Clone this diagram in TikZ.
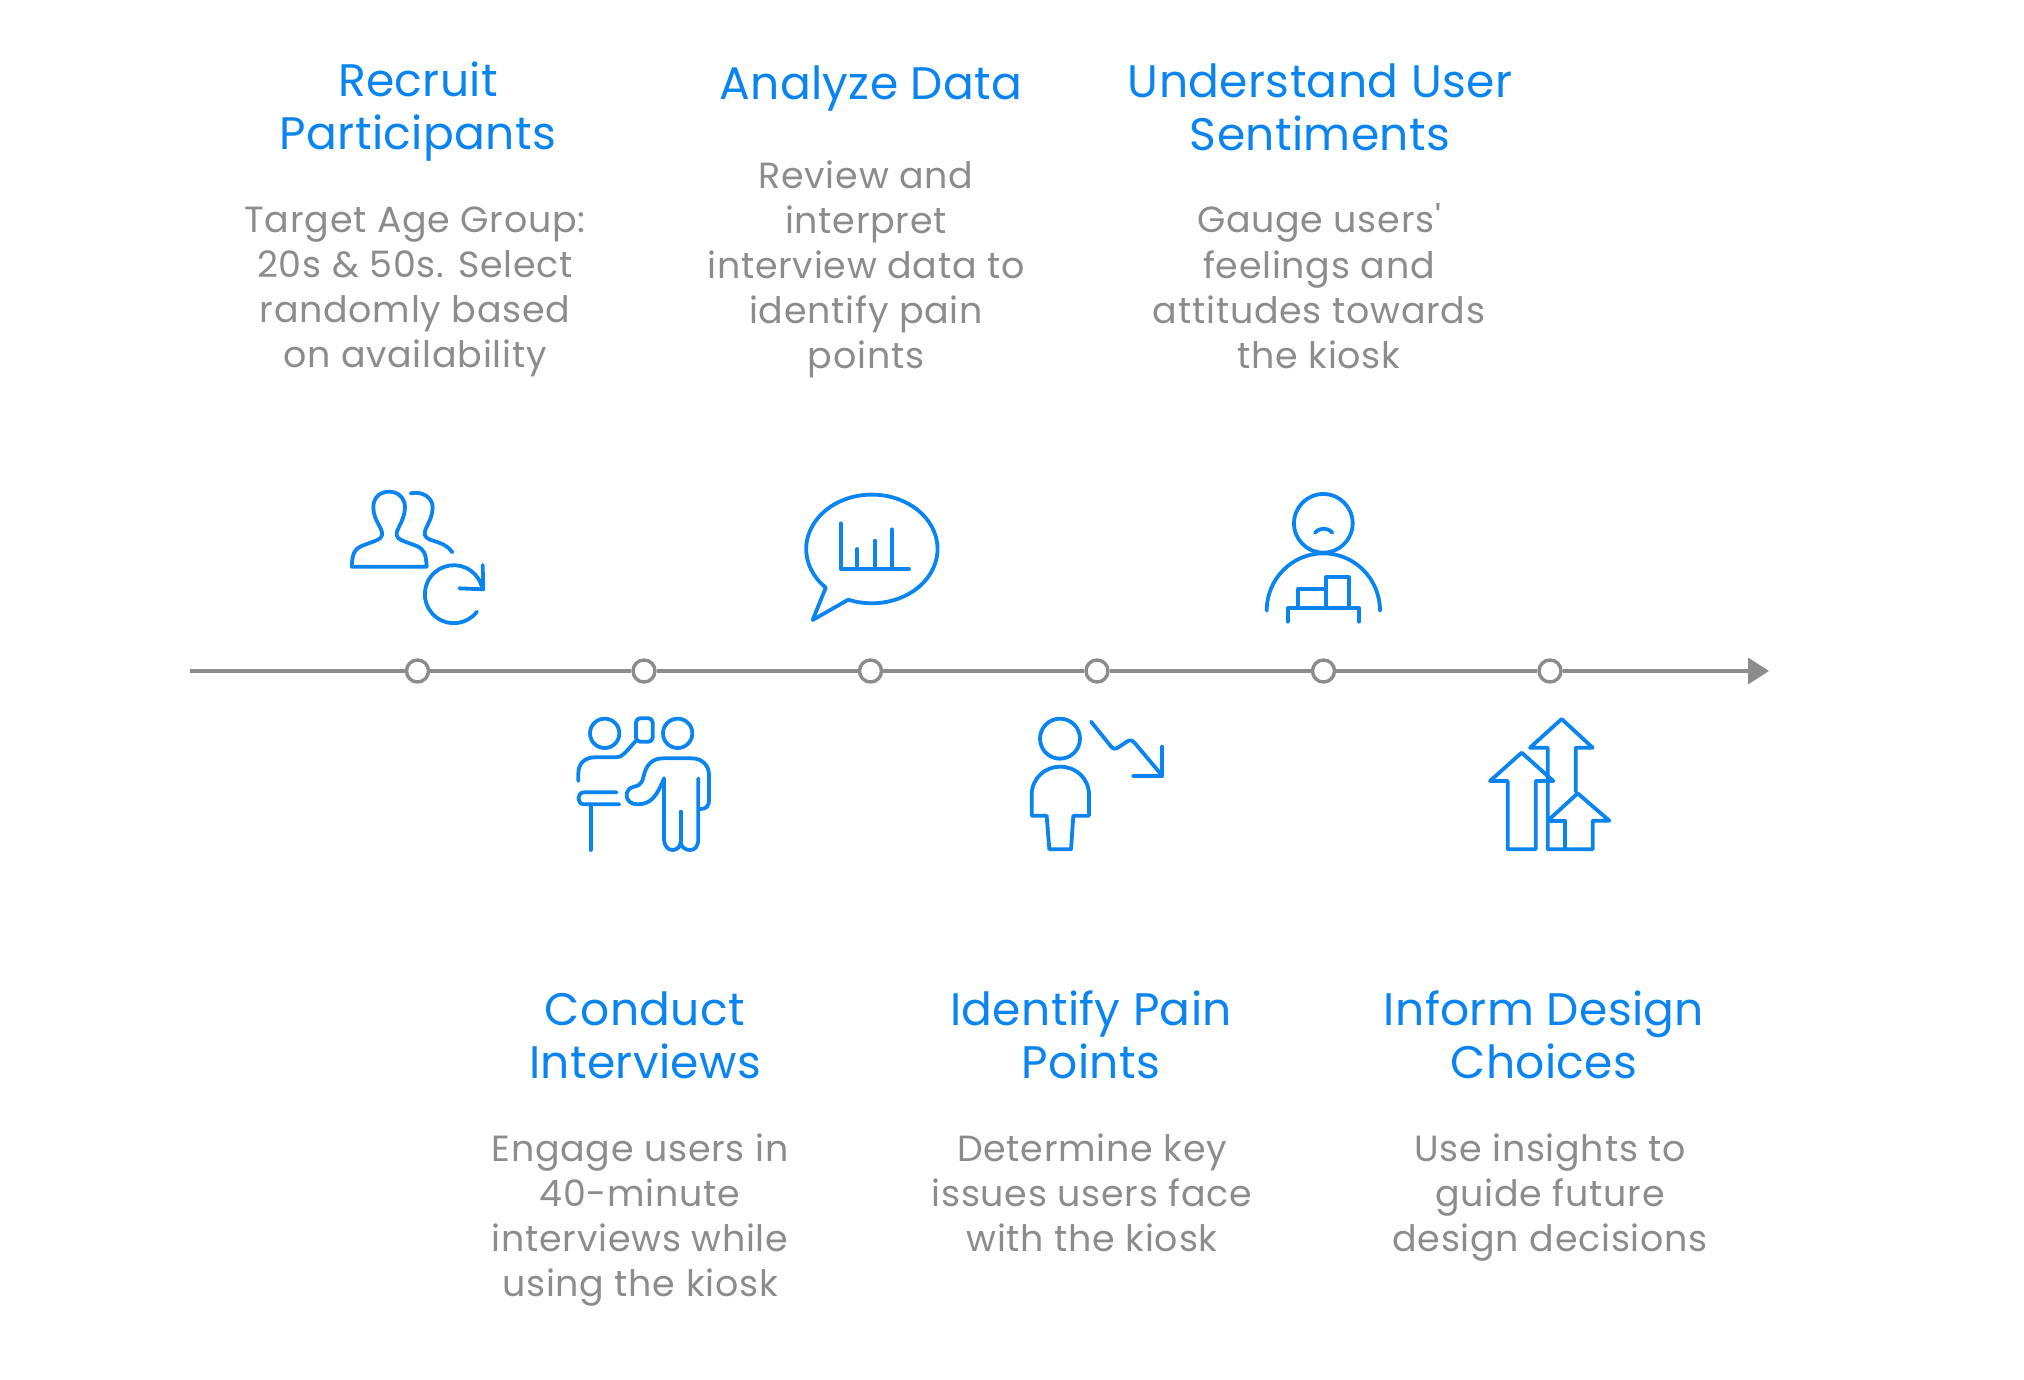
\documentclass[tikz,border=0pt]{standalone}
\usepackage{fontspec}
\setmainfont{Poppins}[Ligatures = TeXOff]
\usetikzlibrary{arrows.meta}
\definecolor{stepblue}{HTML}{0A84F0}
\definecolor{stepgray}{HTML}{8C8C8C}
\begin{document}
\begin{tikzpicture}
    [
        x = 0.5pt, y = -0.5pt,
        title/.style = {text = stepblue, align = center, inner sep = 0pt, font = \fontsize{22.8}{26.5}\selectfont\addfontfeature{LetterSpace = 0.8}},
        body/.style = {text = stepgray, align = center, inner sep = 0pt, anchor = north, font = \fontsize{18.2}{22.6}\selectfont\addfontfeature{LetterSpace = 2.1}},
        dot/.style = {draw = stepgray, fill = white, circle, line width = 1.7pt, inner sep = 0pt, minimum size = 11pt},
        axis/.style = {draw = stepgray, line width = 1.7pt, -{Triangle[length = 10.5pt, width = 13pt]}},
        icon/.style = {draw = stepblue, line width = 1.9pt, line join = round, line cap = round},
        iconat/.style = {shift = {(#1)}, scale = 1/3}
    ]
        \useasboundingbox (0, 0) rectangle (2024, 1380);

        % timeline
        \coordinate (axisstart) at (190, 671);
        \coordinate (axistip) at (1769, 671);
        \node[dot] (dot1) at (417.5, 671) {};
        \node[dot] (dot2) at (644, 671) {};
        \node[dot] (dot3) at (870.5, 671) {};
        \node[dot] (dot4) at (1097, 671) {};
        \node[dot] (dot5) at (1323.5, 671) {};
        \node[dot] (dot6) at (1550, 671) {};
        \draw[axis] (axisstart) -- (dot1) -- (dot2) -- (dot3) -- (dot4) -- (dot5) -- (dot6) -- (axistip);

        % upper texts
        \node[title] (recruit) at (418, 112) {Recruit\\Participants};
        \node[body] (recruittext) at (415, 206) {Target Age Group:\\20s \& 50s. Select\\randomly based\\on availability};
        \node[title] (analyze) at (871, 89) {Analyze Data};
        \node[body] (analyzetext) at (866, 160) {Review and\\interpret\\interview data to\\identify pain\\points};
        \node[title] (sentiments) at (1320, 107) {Understand User\\Sentiments};
        \node[body] (sentimentstext) at (1319, 203.5) {Gauge users'\\feelings and\\attitudes towards\\the kiosk};

        % lower texts
        \node[title] (conduct) at (645, 1035) {Conduct\\Interviews};
        \node[body] (conducttext) at (640, 1133) {Engage users in\\40-minute\\interviews while\\using the kiosk};
        \node[title] (painpoints) at (1091, 1035) {Identify Pain\\Points};
        \node[body] (painpointstext) at (1092, 1133) {Determine key\\issues users face\\with the kiosk};
        \node[title] (inform) at (1544, 1035) {Inform Design\\Choices};
        \node[body] (informtext) at (1550, 1133) {Use insights to\\guide future\\design decisions};

        % recruit icon
        \begin{scope}[iconat = {330, 470}]
            \draw[icon] (65, 290) .. controls (68, 250) and (72, 238) .. (95, 228) -- (140, 211)
                .. controls (158, 204) and (160, 192) .. (152, 175) .. controls (138, 150) and (130, 135) .. (130, 112)
                .. controls (130, 82) and (150, 65) .. (178, 65) .. controls (205, 65) and (225, 85) .. (225, 112)
                .. controls (225, 135) and (215, 155) .. (205, 175) .. controls (196, 192) and (198, 203) .. (215, 211)
                -- (260, 228) .. controls (282, 238) and (288, 250) .. (290, 290) -- cycle;
            \draw[icon] (242, 70) .. controls (280, 62) and (308, 85) .. (308, 112)
                .. controls (308, 135) and (298, 155) .. (288, 175) .. controls (280, 192) and (284, 203) .. (300, 209)
                .. controls (335, 220) and (352, 226) .. (367, 247);
            \draw[icon] (441, 425) arc[start angle = 37, end angle = 349, radius = 87];
            \draw[icon] (458, 285) -- (460, 358) -- (388, 355);
        \end{scope}

        % interview icon
        \begin{scope}[iconat = {560, 700}]
            \draw[icon] (134, 100) circle[radius = 44];
            \draw[icon, rounded corners = 2pt] (228, 55) rectangle (278, 125);
            \draw[icon] (55, 243) -- (55, 220) .. controls (55, 190) and (75, 172) .. (105, 172) -- (165, 172)
                .. controls (185, 172) and (190, 165) .. (228, 122);
            \draw[icon] (170, 277) -- (72, 277) .. controls (50, 277) and (50, 313) .. (72, 313) -- (178, 313);
            \draw[icon] (92, 313) -- (92, 450);
            \draw[icon] (353, 100) circle[radius = 44];
            \draw[icon] (312, 235) -- (312, 415) .. controls (312, 440) and (325, 450) .. (338, 450)
                .. controls (350, 450) and (362, 440) .. (362, 425) .. controls (362, 440) and (375, 450) .. (390, 450)
                .. controls (405, 450) and (415, 440) .. (415, 415) -- (415, 235);
            \draw[icon] (362, 335) -- (362, 425);
            \draw[icon] (420, 327) .. controls (440, 327) and (447, 318) .. (447, 300) -- (447, 225)
                .. controls (447, 195) and (425, 175) .. (395, 175) -- (310, 175)
                .. controls (275, 175) and (258, 195) .. (250, 232) .. controls (245, 255) and (232, 258) .. (222, 260)
                .. controls (190, 266) and (192, 313) .. (232, 313) .. controls (272, 313) and (290, 290) .. (312, 235);
        \end{scope}

        % analyze icon
        \begin{scope}[iconat = {790, 480}]
            \draw[icon] (175, 359) arc[start angle = 111, end angle = -225.4, x radius = 197, y radius = 163] -- (68, 420) -- cycle;
            \draw[icon] (152, 130) -- (152, 267) -- (357, 267);
            \draw[icon] (202, 207) -- (202, 267);
            \draw[icon] (254, 182) -- (254, 267);
            \draw[icon] (305, 148) -- (305, 267);
        \end{scope}

        % pain points icon
        \begin{scope}[iconat = {1020, 700}]
            \draw[icon] (120, 116) circle[radius = 60];
            \draw[icon] (35, 347) -- (35, 285) .. controls (35, 235) and (75, 200) .. (120, 200)
                .. controls (168, 200) and (207, 235) .. (207, 285) -- (207, 347) -- (160, 347) -- (153, 448) -- (88, 448) -- (80, 347) -- cycle;
            \draw[icon] (213, 65) -- (272, 138) .. controls (280, 148) and (285, 148) .. (295, 142) -- (322, 124)
                .. controls (332, 118) and (338, 122) .. (345, 130) -- (425, 225);
            \draw[icon] (427, 140) -- (427, 228) -- (340, 228);
        \end{scope}

        % sentiments icon
        \begin{scope}[iconat = {1250, 480}]
            \draw[icon] (220, 130) circle[radius = 88];
            \draw[icon] (195, 158) .. controls (210, 142) and (232, 142) .. (247, 158);
            \draw[icon] (50, 392) arc[start angle = 180, end angle = 360, x radius = 170, y radius = 172];
            \draw[icon] (113, 425) -- (113, 385) -- (327, 385) -- (327, 425);
            \draw[icon] (145, 385) -- (145, 327) -- (228, 327);
            \draw[icon] (228, 385) -- (228, 292) -- (297, 292) -- (297, 385);
        \end{scope}

        % design choices icon
        \begin{scope}[iconat = {1470, 700}]
            \draw[icon] (317, 275) -- (317, 143) -- (368, 143) -- (275, 57) -- (180, 143) -- (233, 143) -- (233, 448) -- (368, 448) -- (368, 362) -- (418, 362) -- (323, 280) -- (238, 358);
            \draw[icon] (238, 362) -- (285, 362) -- (285, 448);
            \draw[icon] (155, 158) -- (250, 243) -- (197, 243) -- (197, 448) -- (113, 448) -- (113, 243) -- (60, 243) -- cycle;
        \end{scope}
    \end{tikzpicture}
\end{document}
